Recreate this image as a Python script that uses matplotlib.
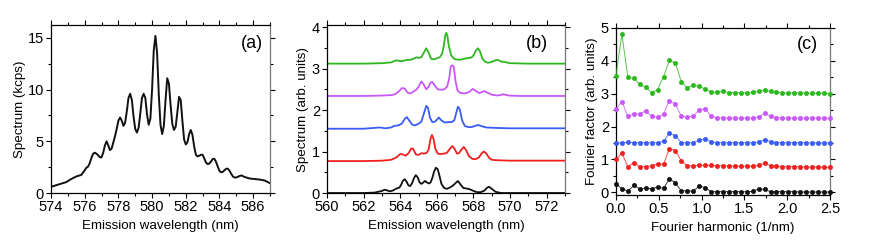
import matplotlib

matplotlib.use("Agg")
import matplotlib.pyplot as plt
from matplotlib.ticker import MultipleLocator

plt.rcParams["font.family"] = ["Liberation Sans", "DejaVu Sans"]
plt.rcParams["font.size"] = 10

# ---- panel (a): single emission spectrum (kcps) ----
wl_a = [574.0, 574.3, 574.6, 574.9, 575.2, 575.5, 575.8, 576.0, 576.1, 576.2,
        576.3, 576.4, 576.5, 576.6, 576.7, 576.8, 576.9, 577.0, 577.1, 577.2,
        577.3, 577.4, 577.5, 577.6, 577.7, 577.8, 577.9, 578.0, 578.1, 578.2,
        578.3, 578.4, 578.5, 578.6, 578.7, 578.8, 578.9, 579.0, 579.1, 579.2,
        579.3, 579.4, 579.5, 579.6, 579.7, 579.8, 579.9, 580.0, 580.1, 580.2,
        580.3, 580.4, 580.5, 580.6, 580.7, 580.8, 580.9, 581.0, 581.1, 581.2,
        581.3, 581.4, 581.5, 581.6, 581.7, 581.8, 581.9, 582.0, 582.1, 582.2,
        582.3, 582.4, 582.5, 582.6, 582.7, 582.8, 582.9, 583.0, 583.1, 583.2,
        583.3, 583.4, 583.5, 583.6, 583.7, 583.8, 583.9, 584.0, 584.1, 584.2,
        584.3, 584.4, 584.5, 584.6, 584.7, 584.8, 584.9, 585.0, 585.2, 585.3,
        585.5, 585.8, 586.1, 586.4, 586.7, 587.0]
spec_a = [0.6, 0.75, 0.9, 1.05, 1.35, 1.6, 1.75, 2.2, 2.45, 2.55,
          2.9, 3.4, 3.8, 3.9, 3.8, 3.65, 3.45, 3.45, 3.9, 4.6,
          5.0, 4.6, 4.15, 4.3, 4.9, 5.5, 6.2, 7.0, 7.3, 7.0,
          6.5, 6.8, 7.9, 9.2, 9.6, 9.0, 7.4, 6.2, 5.85, 6.3,
          7.7, 9.2, 9.6, 9.2, 7.6, 6.6, 7.2, 10.0, 13.8, 15.2,
          13.5, 9.5, 6.6, 5.7, 6.5, 9.0, 11.1, 10.6, 8.5, 6.7,
          6.1, 6.4, 7.8, 9.3, 9.0, 7.0, 5.2, 4.7, 4.9, 5.7,
          6.1, 5.6, 4.5, 3.7, 3.55, 3.6, 3.7, 3.7, 3.35, 2.95,
          2.8, 2.85, 3.05, 3.3, 3.3, 3.0, 2.55, 2.15, 2.0, 2.05,
          2.2, 2.35, 2.35, 2.15, 1.85, 1.6, 1.5, 1.5, 1.65, 1.7,
          1.55, 1.4, 1.35, 1.3, 1.2, 0.95]

# ---- panel (b): five offset spectra (arb. units) ----
wl_b_black = [560.0, 562.0, 562.6, 563.0, 563.15, 563.3, 563.45, 563.6, 563.8, 563.95,
              564.05, 564.15, 564.25, 564.35, 564.45, 564.55, 564.65, 564.75, 564.85, 564.95,
              565.05, 565.15, 565.25, 565.35, 565.45, 565.55, 565.65, 565.75, 565.85, 565.95,
              566.05, 566.15, 566.25, 566.4, 566.55, 566.7, 566.85, 567.0, 567.15, 567.3,
              567.45, 567.6, 567.8, 568.0, 568.2, 568.4, 568.6, 568.75, 568.85, 569.0,
              569.2, 569.5, 573.0]
spec_b_black = [0.0, 0.0, 0.01, 0.05, 0.08, 0.06, 0.04, 0.06, 0.11, 0.13,
                0.2, 0.3, 0.33, 0.27, 0.18, 0.17, 0.24, 0.36, 0.43, 0.38,
                0.26, 0.22, 0.25, 0.29, 0.26, 0.23, 0.25, 0.36, 0.52, 0.61,
                0.57, 0.4, 0.22, 0.12, 0.1, 0.13, 0.17, 0.23, 0.29, 0.2,
                0.12, 0.11, 0.09, 0.05, 0.02, 0.02, 0.06, 0.13, 0.15, 0.1,
                0.03, 0.0, 0.0]

wl_b_red = [560.0, 562.0, 563.0, 563.5, 563.8, 564.0, 564.15, 564.3, 564.45, 564.6,
            564.7, 564.85, 565.0, 565.15, 565.3, 565.45, 565.55, 565.65, 565.73, 565.82,
            565.92, 566.05, 566.2, 566.4, 566.55, 566.7, 566.84, 566.95, 567.1, 567.2,
            567.35, 567.47, 567.6, 567.75, 567.95, 568.15, 568.3, 568.45, 568.56, 568.7,
            568.85, 569.0, 569.3, 570.0, 573.0]
spec_b_red = [0.77, 0.77, 0.78, 0.8, 0.86, 0.94, 0.93, 0.9, 0.96, 1.07,
              1.07, 0.93, 0.92, 0.96, 0.95, 0.97, 1.05, 1.3, 1.4, 1.3,
              1.06, 0.95, 0.94, 0.95, 0.97, 1.06, 1.13, 1.08, 0.95, 0.96,
              1.05, 1.11, 1.03, 0.89, 0.82, 0.82, 0.86, 0.96, 1.0, 0.95,
              0.85, 0.8, 0.79, 0.78, 0.78]

wl_b_blue = [560.0, 562.0, 562.87, 563.2, 563.5, 563.69, 563.9, 564.1, 564.25, 564.36,
             564.5, 564.65, 564.8, 565.0, 565.15, 565.28, 565.42, 565.52, 565.62, 565.75,
             565.9, 566.0, 566.11, 566.25, 566.42, 566.6, 566.8, 566.95, 567.05, 567.15,
             567.25, 567.38, 567.52, 567.7, 567.9, 568.1, 568.24, 568.45, 568.7, 569.2,
             570.0, 573.0]
spec_b_blue = [1.55, 1.55, 1.58, 1.56, 1.58, 1.62, 1.63, 1.68, 1.79, 1.83,
               1.74, 1.65, 1.63, 1.67, 1.72, 1.9, 2.1, 2.05, 1.82, 1.71,
               1.72, 1.77, 1.82, 1.75, 1.7, 1.71, 1.71, 1.75, 1.92, 2.08,
               2.02, 1.75, 1.62, 1.59, 1.59, 1.62, 1.64, 1.61, 1.58, 1.57,
               1.56, 1.56]

wl_b_purple = [560.0, 562.0, 563.0, 563.5, 563.7, 563.9, 564.09, 564.25, 564.4, 564.55,
               564.7, 564.87, 565.0, 565.15, 565.28, 565.42, 565.55, 565.65, 565.75, 565.9,
               566.05, 566.24, 566.4, 566.55, 566.67, 566.76, 566.84, 566.92, 567.02, 567.12,
               567.24, 567.5, 567.75, 567.96, 568.1, 568.3, 568.45, 568.6, 568.75, 569.0,
               569.3, 569.65, 569.9, 570.5, 573.0]
spec_b_purple = [2.34, 2.34, 2.35, 2.36, 2.38, 2.44, 2.53, 2.52, 2.42, 2.4,
                 2.44, 2.49, 2.56, 2.69, 2.62, 2.5, 2.56, 2.66, 2.68, 2.58,
                 2.5, 2.49, 2.5, 2.56, 2.75, 3.05, 3.08, 3.05, 2.7, 2.48,
                 2.42, 2.4, 2.43, 2.51, 2.47, 2.41, 2.43, 2.46, 2.42, 2.37,
                 2.35, 2.38, 2.35, 2.34, 2.34]

wl_b_green = [560.0, 562.0, 563.0, 563.5, 563.78, 563.9, 564.05, 564.2, 564.33, 564.5,
              564.7, 564.87, 565.0, 565.15, 565.28, 565.42, 565.55, 565.68, 565.8, 565.95,
              566.15, 566.28, 566.38, 566.45, 566.51, 566.57, 566.65, 566.78, 566.96, 567.24,
              567.5, 567.69, 567.9, 568.02, 568.12, 568.24, 568.35, 568.48, 568.62, 568.78,
              569.0, 569.2, 569.33, 569.5, 569.69, 570.0, 571.0, 573.0]
spec_b_green = [3.12, 3.12, 3.13, 3.15, 3.2, 3.19, 3.18, 3.19, 3.21, 3.21,
                3.23, 3.27, 3.26, 3.27, 3.38, 3.49, 3.38, 3.24, 3.22, 3.24,
                3.27, 3.35, 3.55, 3.78, 3.86, 3.8, 3.55, 3.32, 3.23, 3.21,
                3.24, 3.25, 3.27, 3.33, 3.43, 3.49, 3.42, 3.25, 3.17, 3.14,
                3.16, 3.2, 3.21, 3.17, 3.16, 3.13, 3.12, 3.12]

# ---- panel (c): Fourier factors (arb. units) ----
harmonic = [0.0, 0.069, 0.139, 0.208, 0.278, 0.347, 0.417, 0.486, 0.556, 0.625,
            0.694, 0.764, 0.833, 0.903, 0.972, 1.042, 1.111, 1.181, 1.25, 1.319,
            1.389, 1.458, 1.528, 1.597, 1.667, 1.736, 1.806, 1.875, 1.944, 2.014,
            2.083, 2.153, 2.222, 2.292, 2.361, 2.431, 2.5]
four_black = [0.26, 0.11, 0.04, 0.21, 0.11, 0.13, 0.11, 0.17, 0.12, 0.42,
              0.28, 0.05, 0.05, 0.03, 0.2, 0.14, 0.02, 0.02, 0.02, 0.02,
              0.02, 0.02, 0.02, 0.03, 0.11, 0.09, 0.02, 0.02, 0.02, 0.02,
              0.02, 0.01, 0.01, 0.01, 0.01, 0.01, 0.01]
four_red = [1.01, 1.19, 0.78, 0.9, 0.78, 0.78, 0.81, 0.86, 0.86, 1.33,
            1.27, 0.95, 0.81, 0.81, 0.82, 0.83, 0.82, 0.81, 0.81, 0.8,
            0.8, 0.79, 0.79, 0.8, 0.82, 0.89, 0.81, 0.79, 0.78, 0.78,
            0.78, 0.77, 0.77, 0.77, 0.77, 0.76, 0.76]
four_blue = [1.49, 1.51, 1.52, 1.51, 1.51, 1.51, 1.51, 1.51, 1.55, 1.8,
             1.72, 1.51, 1.51, 1.51, 1.58, 1.63, 1.53, 1.51, 1.51, 1.51,
             1.51, 1.51, 1.51, 1.51, 1.53, 1.6, 1.54, 1.51, 1.51, 1.51,
             1.51, 1.51, 1.51, 1.5, 1.5, 1.5, 1.5]
four_purple = [2.53, 2.76, 2.31, 2.38, 2.38, 2.48, 2.31, 2.28, 2.38, 2.79,
               2.68, 2.31, 2.29, 2.31, 2.51, 2.54, 2.31, 2.27, 2.26, 2.26,
               2.26, 2.26, 2.26, 2.26, 2.29, 2.4, 2.31, 2.27, 2.26, 2.26,
               2.26, 2.26, 2.26, 2.26, 2.26, 2.25, 2.25]
four_green = [3.55, 4.8, 3.5, 3.46, 3.28, 3.2, 3.03, 3.12, 3.52, 4.01,
              3.93, 3.36, 3.18, 3.25, 3.22, 3.14, 3.05, 3.04, 3.07, 3.03,
              3.03, 3.03, 3.03, 3.04, 3.07, 3.1, 3.07, 3.04, 3.03, 3.02,
              3.02, 3.02, 3.02, 3.01, 3.01, 3.01, 3.0]

BLACK, RED, BLUE, PURPLE, GREEN = "#111111", "#f02020", "#3a5cf5", "#c858f8", "#2db81e"
LABEL_FS = 9.6


def style_axes(ax):
    ax.tick_params(which="both", top=True, right=True, labeltop=False, labelright=False)
    ax.tick_params(which="both", direction="out", width=0.8, labelsize=10.5, pad=1.5)
    ax.tick_params(which="major", length=3.5)
    ax.tick_params(which="minor", length=2)
    for side in ("top", "right", "left", "bottom"):
        ax.spines[side].set_linewidth(0.9)
    ax.spines["right"].set_color("#777777")


fig = plt.figure(figsize=(8.72, 2.47), dpi=100)
ax_a = fig.add_axes([0.0585, 0.2186, 0.2511, 0.680])
ax_b = fig.add_axes([0.3750, 0.2186, 0.2730, 0.680])
ax_c = fig.add_axes([0.7064, 0.2105, 0.2454, 0.677])

# (a)
ax_a.plot(wl_a, spec_a, color=BLACK, lw=1.4)
ax_a.set_xlim(574, 587)
ax_a.set_ylim(0, 16.25)
ax_a.xaxis.set_major_locator(MultipleLocator(2))
ax_a.xaxis.set_minor_locator(MultipleLocator(1))
ax_a.yaxis.set_major_locator(MultipleLocator(5))
ax_a.yaxis.set_minor_locator(MultipleLocator(2.5))
ax_a.set_xlabel("Emission wavelength (nm)", fontsize=LABEL_FS, labelpad=4)
ax_a.set_ylabel("Spectrum (kcps)", fontsize=LABEL_FS, labelpad=1)
ax_a.text(0.918, 0.893, "(a)", transform=ax_a.transAxes, ha="center", va="center", fontsize=13)
style_axes(ax_a)

# (b)
for wl, sp, col in [(wl_b_black, spec_b_black, BLACK), (wl_b_red, spec_b_red, RED),
                    (wl_b_blue, spec_b_blue, BLUE), (wl_b_purple, spec_b_purple, PURPLE),
                    (wl_b_green, spec_b_green, GREEN)]:
    ax_b.plot(wl, sp, color=col, lw=1.3)
ax_b.set_xlim(560, 573)
ax_b.set_ylim(0, 4.05)
ax_b.xaxis.set_major_locator(MultipleLocator(2))
ax_b.xaxis.set_minor_locator(MultipleLocator(1))
ax_b.yaxis.set_major_locator(MultipleLocator(1))
ax_b.yaxis.set_minor_locator(MultipleLocator(0.5))
ax_b.set_xlabel("Emission wavelength (nm)", fontsize=LABEL_FS, labelpad=4)
ax_b.set_ylabel("Spectrum (arb. units)", fontsize=LABEL_FS, labelpad=2)
ax_b.text(0.881, 0.893, "(b)", transform=ax_b.transAxes, ha="center", va="center", fontsize=13)
style_axes(ax_b)

# (c)
for vals, col in [(four_black, BLACK), (four_red, RED), (four_blue, BLUE),
                  (four_purple, PURPLE), (four_green, GREEN)]:
    ax_c.plot(harmonic, vals, color=col, lw=0.7, alpha=0.8, clip_on=False, zorder=3)
    ax_c.plot(harmonic, vals, ls="none", marker="o", ms=3.0, mfc=col, mec=col,
              mew=0.5, clip_on=False, zorder=4)
ax_c.set_xlim(0, 2.5)
ax_c.set_ylim(-0.08, 5.0)
ax_c.xaxis.set_major_locator(MultipleLocator(0.5))
ax_c.xaxis.set_minor_locator(MultipleLocator(0.25))
ax_c.yaxis.set_major_locator(MultipleLocator(1))
ax_c.yaxis.set_minor_locator(MultipleLocator(0.5))
ax_c.set_xlabel("Fourier harmonic (1/nm)", fontsize=LABEL_FS, labelpad=4)
ax_c.set_ylabel("Fourier factor (arb. units)", fontsize=LABEL_FS, labelpad=2)
ax_c.text(0.897, 0.898, "(c)", transform=ax_c.transAxes, ha="center", va="center", fontsize=13)
style_axes(ax_c)

fig.savefig("out.png", dpi=100)
plt.close(fig)
